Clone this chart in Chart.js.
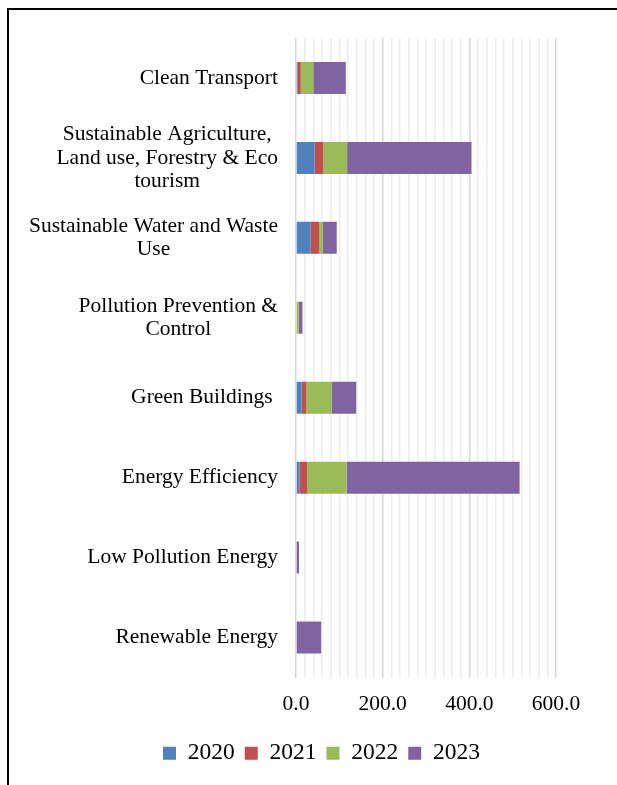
<!DOCTYPE html>
<html>
<head>
<meta charset="utf-8">
<script src="https://cdn.jsdelivr.net/npm/chart.js@4.4.1/dist/chart.umd.min.js"></script>
<style>
  html, body { margin: 0; padding: 0; background: #fff; overflow: hidden; }
  #frame { position: absolute; left: 7px; top: 8px; width: 1000px; height: 1000px; border-left: 2px solid #000; border-top: 2px solid #000; }
  #wrap { position: absolute; left: 0; top: 0; width: 617px; height: 785px; }
</style>
</head>
<body>
<div id="frame"></div>
<div id="wrap"><canvas id="chart" width="617" height="785"></canvas></div>
<script>
var categories = [
    ['Clean Transport'],
    ['Sustainable Agriculture,', 'Land use, Forestry & Eco', 'tourism'],
    ['Sustainable Water and Waste', 'Use'],
    ['Pollution Prevention &', 'Control'],
    ['Green Buildings '],
    ['Energy Efficiency'],
    ['Low Pollution Energy'],
    ['Renewable Energy']
];
var years = ['2020', '2021', '2022', '2023'];
var values2020 = [3, 43, 34, 0, 13, 8, 0, 0];
var values2021 = [8, 20, 20, 0, 11, 18, 0, 0];
var values2022 = [29, 55, 8, 6, 58, 91, 0, 0];
var values2023 = [75, 287, 32, 9, 57, 399, 7, 58];
var colors = ['#4F81BD', '#C0504D', '#9BBB59', '#8064A2'];

var FONT = '"Liberation Serif", "Times New Roman", serif';

// category labels: block right-aligned, lines centred inside the block (Excel style)
var yLabels = {
    id: 'yLabels',
    afterDraw: function (chart) {
        var ctx = chart.ctx;
        var scale = chart.scales.y;
        var right = chart.chartArea.left - 18;
        var lh = 23.5;
        ctx.save();
        ctx.font = '21.5px ' + FONT;
        ctx.fillStyle = '#000';
        ctx.textAlign = 'center';
        ctx.textBaseline = 'middle';
        categories.forEach(function (lines, i) {
            var w = 0;
            lines.forEach(function (l) { w = Math.max(w, ctx.measureText(l).width); });
            var cx = right - w / 2;
            var cy = scale.getPixelForValue(i);
            var y0 = cy - (lines.length - 1) * lh / 2;
            lines.forEach(function (l, k) { ctx.fillText(l, cx, y0 + k * lh); });
        });
        ctx.restore();
    }
};

var series = [values2020, values2021, values2022, values2023];
var ctx = document.getElementById('chart');
var myChart = new Chart(ctx, {
    type: 'bar',
    plugins: [yLabels],
    data: {
        labels: categories.map(function (c) { return c.join(' '); }),
        datasets: years.map(function (y, i) {
            return {
                label: y,
                data: series[i],
                backgroundColor: colors[i],
                borderWidth: 0
            };
        })
    },
    options: {
        indexAxis: 'y',
        responsive: false,
        animation: false,
        layout: {
            padding: { top: 38, right: 0, bottom: 10, left: 26 }
        },
        plugins: {
            legend: {
                position: 'bottom',
                labels: {
                    font: { family: FONT, size: 23.5 },
                    color: '#000',
                    boxWidth: 13,
                    boxHeight: 13,
                    padding: 10
                }
            },
            tooltip: { enabled: false }
        },
        scales: {
            x: {
                stacked: true,
                min: 0,
                max: 600,
                border: { display: false },
                grid: {
                    drawTicks: false,
                    lineWidth: 1.5,
                    color: function (c) {
                        return c.tick && c.tick.value % 200 === 0 ? '#d6d6d6' : '#ececec';
                    }
                },
                ticks: {
                    stepSize: 20,
                    autoSkip: false,
                    maxRotation: 0,
                    padding: 14,
                    color: '#000',
                    font: { family: FONT, size: 21.5 },
                    callback: function (v) { return v % 200 === 0 ? v.toFixed(1) : ''; }
                },
                afterFit: function (s) { s.height = 54; }
            },
            y: {
                stacked: true,
                border: { display: false },
                grid: { display: false },
                ticks: { display: false },
                afterFit: function (s) { s.width = 270; }
            },
            // empty right-hand axis, only reserves the blank space right of the plot
            yRight: {
                type: 'linear',
                position: 'right',
                border: { display: false },
                grid: { display: false },
                ticks: { display: false },
                afterFit: function (s) { s.width = 61; }
            }
        },
        datasets: {
            bar: { barPercentage: 0.4, categoryPercentage: 1 }
        }
    }
});
</script>
</body>
</html>
